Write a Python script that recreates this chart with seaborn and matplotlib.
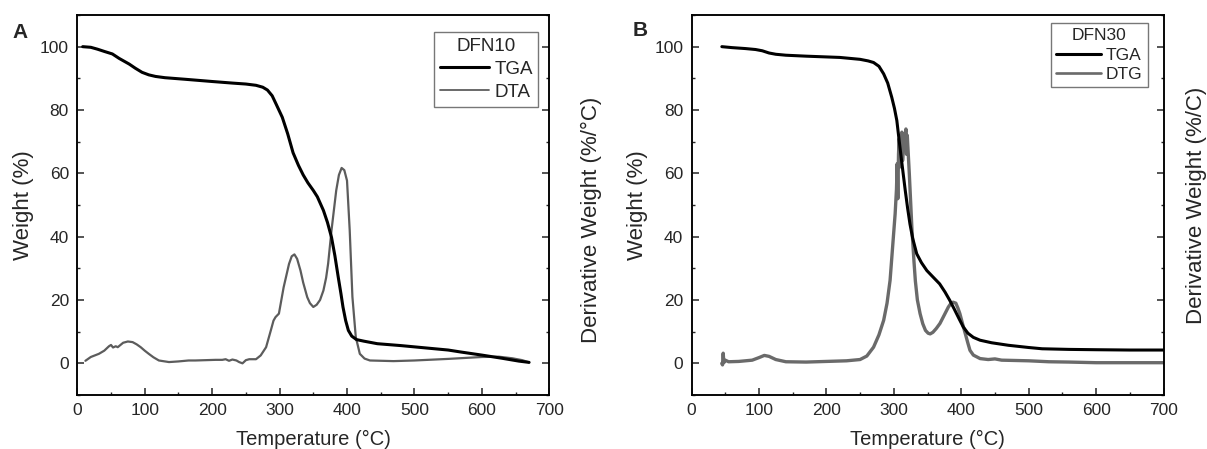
import numpy as np
import pandas as pd
import matplotlib
matplotlib.use("Agg")
import matplotlib.pyplot as plt
from matplotlib.ticker import MultipleLocator
from matplotlib.lines import Line2D
import seaborn as sns

# ---- Panel A: DFN10 ----
a_tga_t = [8, 20, 30, 40, 52, 62, 77, 86, 96, 106, 116, 130, 160, 200, 230, 250, 265, 275, 282, 289,
           295, 304, 312, 320, 328, 335, 342, 350, 356, 365, 371, 377, 382, 387, 391, 394, 398, 402,
           407, 414, 425, 445, 480, 520, 550, 568, 600, 630, 655, 670]
a_tga_w = [100, 99.8, 99.2, 98.5, 97.7, 96.3, 94.5, 93.2, 91.9, 91.1, 90.6, 90.2, 89.7, 89, 88.5, 88.2,
           87.8, 87.2, 86.3, 84.5, 81.8, 77.7, 72.5, 66.5, 62.5, 59.5, 57, 54.6, 52.6, 48.3, 44.5, 39.8,
           34, 27.2, 22, 17.8, 13.5, 10.4, 8.6, 7.5, 7, 6.2, 5.6, 4.8, 4.2, 3.6, 2.6, 1.6, 0.7, 0.3]
a_dta_t = [12, 20, 32, 40, 47, 50, 53, 57, 60, 64, 68, 75, 82, 88, 94, 100, 106, 113, 121, 130, 136,
           150, 165, 175, 190, 205, 215, 220, 225, 230, 236, 240, 245, 250, 255, 265, 272, 280, 287,
           291, 294, 299, 306, 314, 318, 322, 326, 331, 335, 341, 345, 350, 355, 360, 365, 369, 372,
           377, 384, 388, 392, 396, 400, 404, 408, 413, 419, 426, 434, 469, 500, 550, 600, 625, 645,
           660, 670]
a_dta_v = [0.8, 2.0, 3.0, 4.0, 5.4, 5.8, 5.0, 5.4, 5.1, 5.8, 6.5, 6.9, 6.7, 6.0, 5.1, 4.0, 3.0, 1.9,
           0.9, 0.6, 0.4, 0.6, 0.9, 0.9, 1.0, 1.1, 1.1, 1.3, 0.8, 1.2, 0.9, 0.4, 0.0, 1.0, 1.3, 1.3,
           2.5, 5.1, 10.4, 13.5, 14.6, 15.7, 24, 31.4, 33.8, 34.4, 33, 29.3, 25.5, 20.9, 19, 17.8,
           18.5, 20, 23, 27, 31.5, 42, 54.6, 59.5, 61.7, 61, 57.7, 42, 21, 8.3, 3.0, 1.5, 0.9, 0.7,
           0.9, 1.4, 2.0, 2.1, 1.6, 1.0, 0.3]

# ---- Panel B: DFN30 ----
b_tga_t = [45, 60, 80, 95, 105, 115, 125, 140, 170, 220, 250, 262, 270, 278, 285, 291, 297, 301, 304.5,
           309, 313, 317, 320.5, 324, 328, 334, 341, 349, 358, 368, 376, 383, 390, 397, 403, 410, 418,
           428, 445, 470, 500, 520, 560, 600, 650, 700]
b_tga_w = [100, 99.7, 99.4, 99.1, 98.7, 98.0, 97.6, 97.3, 97.0, 96.6, 96, 95.5, 95.0, 93.8, 91.4, 88.5,
           84, 80.5, 76.7, 68.5, 61.5, 54.6, 49, 44, 39.5, 34.6, 31.8, 29.3, 27.3, 25.1, 22.5, 19.9, 17,
           14, 11.5, 9.5, 8.2, 7.3, 6.5, 5.7, 5.0, 4.6, 4.4, 4.3, 4.2, 4.2]
b_dtg_t = [45, 46, 47, 48, 50, 55, 70, 90, 100, 108, 115, 125, 140, 170, 200, 230, 250, 260, 270, 278,
           285, 290, 294.5, 298, 302, 304, 305, 306, 307, 308, 309, 310, 311, 312, 313, 315, 317, 318,
           319, 320, 321, 323, 325, 327, 330, 332, 335, 339, 343, 347, 351, 354, 358, 363, 368.5, 375,
           381, 385, 388, 392, 395, 398, 402, 406, 410, 413, 418, 428, 440, 450, 460, 480, 500, 530,
           560, 600, 650, 700]
b_dtg_v = [0, -0.5, 3.2, 0.2, 1.0, 0.5, 0.6, 1.0, 1.8, 2.5, 2.2, 1.2, 0.5, 0.4, 0.6, 0.8, 1.2, 2.3, 5.1,
           9, 13.6, 19, 26.2, 36, 47.2, 55, 63, 52, 66, 71, 62, 72, 66, 73, 64, 70, 72, 74, 66, 72, 68,
           60, 51, 42, 32, 26, 20, 15.7, 12.5, 10.4, 9.5, 9.3, 9.8, 11, 12.6, 15.3, 17.8, 19, 19.3, 19,
           17.5, 15.7, 12.5, 9.4, 6.3, 4.1, 2.6, 1.5, 1.2, 1.4, 1.0, 0.9, 0.8, 0.5, 0.4, 0.2, 0.2, 0.2]

sns.set_style("ticks")
plt.rcParams['font.family'] = ['Liberation Sans', 'DejaVu Sans']

W, H = 1207, 449
fig = plt.figure(figsize=(W / 100, H / 100), dpi=100)
axA = fig.add_axes([77.3 / W, (H - 395) / H, 472 / W, 380 / H])
axB = fig.add_axes([691.5 / W, (H - 395) / H, 472 / W, 380 / H])

panels = [
    dict(ax=axA, tt=a_tga_t, tw=a_tga_w, dt=a_dta_t, dv=a_dta_v, dname="DTA", title="DFN10",
         rlabel="Derivative Weight (%/°C)", dlw=1.6, dcol="#5c5c5c", rx=1 + 42 / 472, ry=0.46,
         leg_anchor=(0.977, 0.955), leg_fs=13.5, leg_sp=0.32, letter=("A", 20, 33)),
    dict(ax=axB, tt=b_tga_t, tw=b_tga_w, dt=b_dtg_t, dv=b_dtg_v, dname="DTG", title="DFN30",
         rlabel="Derivative Weight (%/C)", dlw=2.4, dcol="#6a6a6a", rx=1 + 33 / 472, ry=0.5,
         leg_anchor=(0.967, 0.979), leg_fs=12.5, leg_sp=0.25, letter=("B", 640, 31)),
]

for p in panels:
    ax = p["ax"]
    df1 = pd.DataFrame({"T": p["tt"], "W": p["tw"]})
    df2 = pd.DataFrame({"T": p["dt"], "V": p["dv"]})
    ax2 = ax.twinx()
    sns.lineplot(data=df2, x="T", y="V", ax=ax2, color=p["dcol"], lw=p["dlw"], sort=False)
    sns.lineplot(data=df1, x="T", y="W", ax=ax, color="black", lw=2.2, sort=False)
    ax.set_zorder(ax2.get_zorder() + 1)
    ax.patch.set_visible(False)
    for a in (ax, ax2):
        a.set_xlim(0, 700)
        a.set_ylim(-10, 110)
        for s in a.spines.values():
            s.set_linewidth(1.1)
            s.set_color("black")
    ax.xaxis.set_major_locator(MultipleLocator(100))
    ax.xaxis.set_minor_locator(MultipleLocator(50))
    ax.yaxis.set_major_locator(MultipleLocator(20))
    ax.yaxis.set_minor_locator(MultipleLocator(10))
    ax2.yaxis.set_major_locator(MultipleLocator(20))
    ax2.yaxis.set_minor_locator(MultipleLocator(10))
    ax.tick_params(which="major", direction="in", length=5, width=1.1, labelsize=12.5, top=False, pad=6)
    ax.tick_params(which="minor", direction="in", length=2.5, width=1.0, top=False)
    ax2.tick_params(which="major", direction="in", length=5, width=1.1, labelright=False)
    ax2.tick_params(which="minor", direction="in", length=2.5, width=1.0)
    ax.set_xlabel("Temperature (°C)", fontsize=14.5)
    ax.xaxis.set_label_coords(0.5, -0.092)
    ax.set_ylabel("Weight (%)", fontsize=16)
    ax.yaxis.set_label_coords(-0.092, 0.5)
    ax2.set_ylabel(p["rlabel"], fontsize=16, rotation=90, va="center")
    ax2.yaxis.set_label_coords(p["rx"], p["ry"])
    handles = [Line2D([], [], color="black", lw=2.2), Line2D([], [], color=p["dcol"], lw=p["dlw"] * 0.8)]
    leg = ax.legend(handles, ["TGA", p["dname"]], title=p["title"], loc="upper right",
                    bbox_to_anchor=p["leg_anchor"], fontsize=p["leg_fs"], title_fontsize=p["leg_fs"],
                    frameon=True, fancybox=False, handlelength=2.6, handletextpad=0.3,
                    borderpad=0.3, labelspacing=p["leg_sp"], borderaxespad=0.0, alignment="center")
    leg.get_frame().set_edgecolor("#555555")
    leg.get_frame().set_linewidth(1.0)
    letter, lx, ly = p["letter"]
    fig.text(lx / W, 1 - ly / H, letter, fontsize=15, fontweight="bold", va="center", ha="center")

fig.savefig("out.png", dpi=100)
